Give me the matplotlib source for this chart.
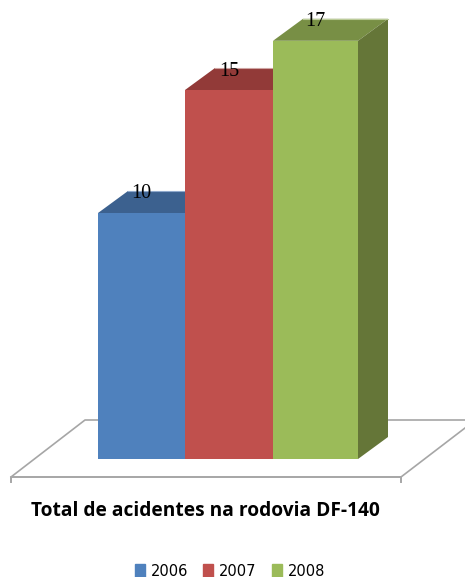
#!/usr/bin/env python3
import matplotlib
matplotlib.use("Agg")
import matplotlib.pyplot as plt
from matplotlib.patches import Polygon, Patch

# ----------------------------
# DATA
# ----------------------------
years = ["2006", "2007", "2008"]
totals = [10, 15, 17]
front_colors = ["#4F81BD", "#C0504D", "#9BBB59"]
top_colors = ["#3C618F", "#923A38", "#788F45"]
side_colors = ["#324F75", "#7A302E", "#657638"]
rim_colors = ["#8FA9CC", "#CFA5A3", "#BCCC9A"]
title = "Total de acidentes na rodovia DF-140"

W, H = 465, 577
# pixel layout of the plot, used to set the axis limits
LEFT_PX = 98
BASE_PX = 459
BAR_PX = 87
UNIT_PX = 24.6
# bar edges differ by a pixel or two
edges_px = [98, 185, 273, 358]
edges = [(e - LEFT_PX) / BAR_PX for e in edges_px]
# oblique depth of the boxes, in data units
DX = 30 / BAR_PX
DY = 22 / UNIT_PX

fig = plt.figure(figsize=(W / 100, H / 100), dpi=100)
ax = fig.add_axes([0, 0, 1, 1])
ax.set_xlim(-LEFT_PX / BAR_PX, (W - LEFT_PX) / BAR_PX)
ax.set_ylim((BASE_PX - H) / UNIT_PX, BASE_PX / UNIT_PX)
ax.axis("off")

# ----------------------------
# FLOOR
# ----------------------------
floor_color = "#A6A6A6"
x_l, x_r = (11 - LEFT_PX) / BAR_PX, (401 - LEFT_PX) / BAR_PX
y_f = (BASE_PX - 477) / UNIT_PX
y_tick = (BASE_PX - 482) / UNIT_PX
floor_dx = 74 / BAR_PX
floor_dy = 57 / UNIT_PX
x_end = (W - LEFT_PX) / BAR_PX
y_end = (BASE_PX - 428) / UNIT_PX
ax.plot([x_l, x_l, x_r, x_r], [y_tick, y_f, y_f, y_tick], color=floor_color, lw=1.4, zorder=1)
ax.plot([x_l, x_l + floor_dx, x_end], [y_f, y_f + floor_dy, y_f + floor_dy],
        color=floor_color, lw=1.2, zorder=1)
ax.plot([x_r, x_end], [y_f, y_end], color=floor_color, lw=1.2, zorder=1)

# ----------------------------
# BARS
# ----------------------------
for i, v in enumerate(totals):
    x0, x1 = edges[i], edges[i + 1]
    # top and side faces first, the next bar's front covers them
    ax.add_patch(Polygon([(x0, v), (x1, v), (x1 + DX, v + DY), (x0 + DX, v + DY)],
                         facecolor=top_colors[i], edgecolor="none", zorder=2 + i))
    ax.add_patch(Polygon([(x1, 0), (x1 + DX, DY), (x1 + DX, v + DY), (x1, v)],
                         facecolor=side_colors[i], edgecolor="none", zorder=2 + i))
    ax.plot([x0 + DX, x1 + DX], [v + DY, v + DY], color=rim_colors[i], lw=0.8, zorder=2 + i)
    ax.bar(x0, v, width=x1 - x0, align="edge", color=front_colors[i], zorder=2 + i)
    ax.annotate(str(v), ((x0 + x1) / 2, v), xytext=(0, 19), textcoords="offset pixels",
                ha="center", va="center", fontsize=14.5, family="Liberation Serif",
                color="black", zorder=10)

# ----------------------------
# TITLE AND LEGEND
# ----------------------------
ax.text((205.5 - LEFT_PX) / BAR_PX, (BASE_PX - 511) / UNIT_PX, title, ha="center", va="center",
        fontsize=13.75, fontweight="bold", family="Open Sans", color="black")

handles = [Patch(color=c, label=y) for c, y in zip(front_colors, years)]
ax.legend(handles=handles, ncols=3, frameon=False, loc="center",
          bbox_to_anchor=(230 / W, 1 - 571 / H), fontsize=10.5,
          handlelength=0.68, handleheight=1.0, handletextpad=0.4,
          columnspacing=1.03, borderpad=0, borderaxespad=0)

plt.savefig("out.png", dpi=100)
